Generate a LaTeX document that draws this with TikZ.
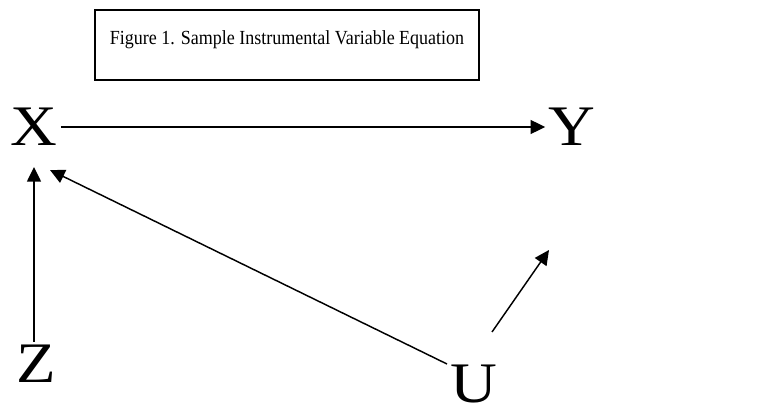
\documentclass[tikz,border=0pt]{standalone}
\usepackage{fontspec}
\setmainfont{Liberation Serif}
\newfontfamily\varfont[FakeStretch=1.13]{Liberation Serif}
\newfontfamily\capfont[FakeStretch=0.9]{Liberation Serif}
\usetikzlibrary{arrows.meta, calc}
\tikzset{
  every picture/.style={line width=1.1pt},
  var/.style={font=\varfont\fontsize{43}{43}\selectfont, inner sep=2pt},
  caption/.style={draw, line width=1pt, font=\capfont\fontsize{15}{18}\selectfont, minimum width=288pt,
                  text height=26.25pt, text depth=26.25pt, inner ysep=0pt},
  arrow/.style={-{Triangle[length=11pt, width=10.5pt]}},
}
\begin{document}
\begin{tikzpicture}[x=0.75pt, y=-0.75pt]
  \useasboundingbox (0,0) rectangle (779,414);
  \node[caption] (fig) at (287,45) {Figure 1. Sample Instrumental Variable Equation};
  % variables
  \node[var] (X) at (34,127) {X};
  \node[var] (Y) at (572,127) {Y};
  \node[var] (Z) at (36,364) {Z};
  \node[var] (U) at (474,384) {U};
  % paths
  \draw[arrow] (X) -- (Y);
  \draw[arrow] (Z.north -| X) -- ($(X)+(0,40)$);
  \draw[arrow] ($(U)+(-27,-20)$) -- ($(X)+(16,43)$);
  \draw[arrow] ($(U)+(18,-52)$) -- ($(Y)+(-23,123)$);
\end{tikzpicture}
\end{document}
